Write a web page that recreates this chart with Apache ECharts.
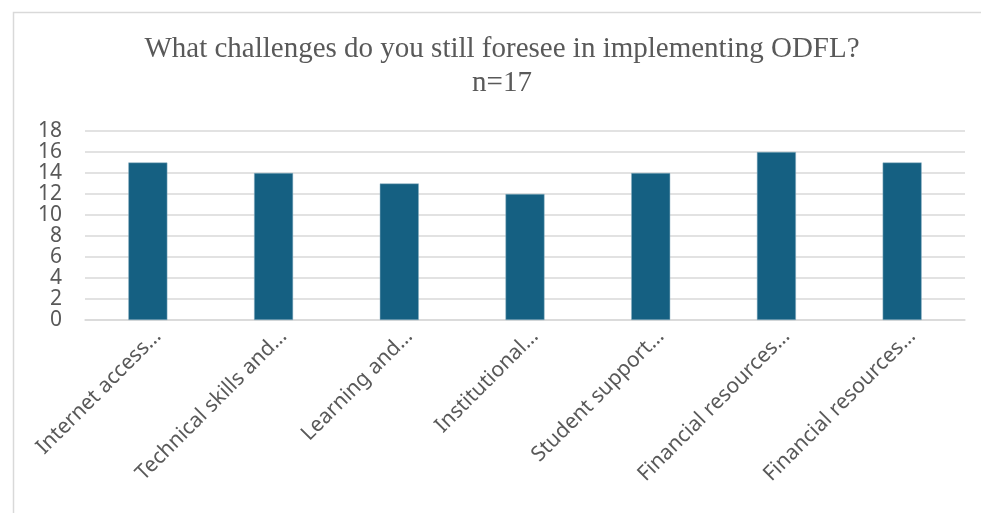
<!DOCTYPE html>
<html>
<head>
<meta charset="utf-8">
<script src="https://cdn.jsdelivr.net/npm/echarts@6/dist/echarts.min.js"></script>
<style>
  html, body { margin: 0; padding: 0; background: #ffffff; }
  #chart { width: 981px; height: 513px; }
</style>
</head>
<body>
<div id="chart"></div>
<script>
// Survey answers: number of respondents naming each challenge
const categories = [
  'Internet access…',
  'Technical skills and…',
  'Learning and…',
  'Institutional…',
  'Student support…',
  'Financial resources…',
  'Financial resources…'
];
const counts = [15, 14, 13, 12, 14, 16, 15];
const yTicks = [0, 2, 4, 6, 8, 10, 12, 14, 16, 18];

const chart = echarts.init(document.getElementById('chart'), null, { renderer: 'canvas' });

const textGrey = '#595959';
const gridGrey = '#d9d9d9';
const yMin = yTicks[0];
const yMax = yTicks[yTicks.length - 1];

chart.setOption({
  animation: false,
  backgroundColor: '#ffffff',
  graphic: [{
    type: 'rect',
    left: 11,
    top: 10,
    shape: { width: 980, height: 520 },
    style: { fill: 'none', stroke: gridGrey, lineWidth: 1.5 },
    silent: true
  }],
  title: {
    text: 'What challenges do you still foresee in implementing ODFL?\nn=17',
    left: 497,
    textAlign: 'center',
    top: 27,
    textStyle: {
      fontFamily: 'Liberation Serif',
      fontSize: 29,
      fontWeight: 'normal',
      color: textGrey,
      lineHeight: 34
    }
  },
  grid: [
    // plotting area
    { left: 85, right: 16, top: 131, bottom: 193, containLabel: false },
    // category label band, nudged right so the slanted labels sit under their bars
    { left: 95, right: 6, top: 131, bottom: 193, containLabel: false }
  ],
  xAxis: [{
    type: 'category',
    gridIndex: 0,
    data: categories,
    axisLine: { show: true, lineStyle: { color: gridGrey, width: 1.5 } },
    axisTick: { show: false },
    axisLabel: { show: false }
  }, {
    type: 'category',
    gridIndex: 1,
    data: categories,
    axisLine: { show: false },
    axisTick: { show: false },
    splitLine: { show: false },
    axisLabel: {
      interval: 0,
      rotate: 45,
      margin: 13,
      fontFamily: 'Noto Sans',
      fontSize: 21,
      color: textGrey
    }
  }],
  yAxis: [{
    type: 'value',
    gridIndex: 0,
    min: yMin,
    max: yMax,
    interval: yTicks[1] - yTicks[0],
    axisLine: { show: false },
    axisTick: { show: false },
    axisLabel: {
      margin: 23,
      fontFamily: 'Noto Sans',
      fontSize: 21,
      color: textGrey
    },
    splitLine: { lineStyle: { color: gridGrey, width: 1.5 } }
  }, {
    type: 'value',
    gridIndex: 1,
    min: yMin,
    max: yMax,
    show: false,
    splitLine: { show: false }
  }],
  series: [{
    type: 'bar',
    xAxisIndex: 0,
    yAxisIndex: 0,
    data: counts,
    barWidth: 39,
    itemStyle: { color: '#156082', borderColor: '#8fb3c4', borderWidth: 0.5 }
  }]
});
</script>
</body>
</html>
